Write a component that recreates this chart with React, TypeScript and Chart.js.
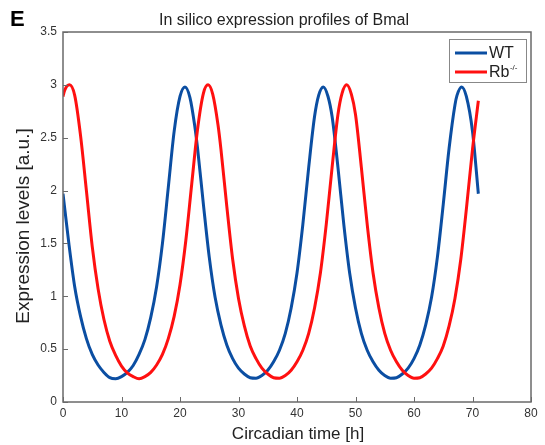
import React, { useEffect, useRef } from "react";
import { Chart, registerables } from "chart.js";

Chart.register(...registerables);

const TITLE = "In silico expression profiles of Bmal";
const PANEL = "E";
const X_TITLE = "Circadian time [h]";
const Y_TITLE = "Expression levels [a.u.]";
const LEGEND_WT = "WT";
const LEGEND_RB = "Rb";
const LEGEND_RB_SUP = "-/-";

const WT_HOURS = [
  0, 1, 2, 3, 4, 5, 6, 7, 8, 9, 10, 11, 12, 13, 14, 15, 16, 17, 18, 19, 20, 20.85, 21.7, 22.5,
  23, 24, 25, 26, 27, 28, 29, 30, 31, 32, 33, 34, 35, 36, 37, 38, 39, 40, 41, 42, 43, 43.7, 44.5,
  45.3, 46, 47, 48, 49, 50, 51, 52, 53, 54, 55, 56, 57, 58, 59, 60, 61, 62, 63, 64, 65, 66, 67,
  67.35, 68.15, 68.95, 70, 71,
];

const WT = [
  1.97, 1.5, 1.09, 0.81, 0.6, 0.45, 0.35, 0.28, 0.23, 0.22, 0.24, 0.28, 0.345, 0.45, 0.59, 0.8,
  1.09, 1.5, 2.03, 2.56, 2.89, 2.98, 2.88, 2.62, 2.4, 1.87, 1.37, 0.99, 0.73, 0.54, 0.41, 0.32,
  0.265, 0.23, 0.225, 0.25, 0.3, 0.38, 0.49, 0.65, 0.89, 1.22, 1.68, 2.22, 2.7, 2.9, 2.98, 2.89,
  2.7, 2.22, 1.68, 1.22, 0.89, 0.65, 0.49, 0.38, 0.3, 0.25, 0.225, 0.23, 0.265, 0.32, 0.41, 0.54,
  0.73, 0.99, 1.37, 1.87, 2.4, 2.81, 2.9, 2.98, 2.89, 2.56, 1.97,
];

const RB_HOURS = [
  0, 0.3, 1.1, 2, 3, 4, 5, 6, 7, 8, 9, 10, 11, 12, 13, 14, 15, 16, 17, 18, 19, 20, 21, 22, 23,
  24, 24.8, 25.6, 26.5, 27, 28, 29, 30, 31, 32, 33, 34, 35, 36, 37, 38, 39, 40, 41, 42, 43, 44,
  45, 46, 47, 47.7, 48.5, 49.3, 50, 51, 52, 53, 54, 55, 56, 57, 58, 59, 60, 61, 62, 63, 64, 65,
  66, 67, 68, 69, 70, 71,
];

const RB = [
  2.89, 2.95, 3.0, 2.9, 2.52, 2.0, 1.47, 1.07, 0.78, 0.575, 0.44, 0.34, 0.275, 0.24, 0.22, 0.24,
  0.28, 0.35, 0.45, 0.6, 0.81, 1.11, 1.53, 2.06, 2.58, 2.92, 3.0, 2.91, 2.62, 2.39, 1.85, 1.35,
  0.98, 0.72, 0.53, 0.41, 0.32, 0.265, 0.23, 0.225, 0.25, 0.3, 0.38, 0.49, 0.65, 0.89, 1.22, 1.68,
  2.22, 2.72, 2.92, 3.0, 2.91, 2.72, 2.22, 1.68, 1.22, 0.89, 0.65, 0.49, 0.38, 0.3, 0.25, 0.225,
  0.23, 0.265, 0.32, 0.41, 0.53, 0.72, 0.98, 1.35, 1.85, 2.39, 2.85,
];

const X_MIN = 0;
const X_MAX = 80;
const X_STEP = 10;
const Y_MIN = 0;
const Y_MAX = 3.5;
const Y_STEP = 0.5;

const BLUE = "#0b4ea2";
const RED = "#ff1010";
const FONT = '"Liberation Sans", Arial, Helvetica, sans-serif';

const overlay = {
  id: "overlay",
  afterDraw(chart: any) {
    const { ctx, chartArea: a, scales } = chart;
    ctx.save();
    // frame
    ctx.strokeStyle = "#6a6a6a";
    ctx.lineWidth = 1.5;
    ctx.strokeRect(a.left, a.top, a.right - a.left, a.bottom - a.top);
    // inward tick marks (bottom and left only)
    ctx.lineWidth = 1;
    const tl = 5;
    scales.x.ticks.forEach((t: any) => {
      const px = Math.round(scales.x.getPixelForValue(t.value)) + 0.5;
      ctx.beginPath();
      ctx.moveTo(px, a.bottom);
      ctx.lineTo(px, a.bottom - tl);
      ctx.stroke();
    });
    scales.y.ticks.forEach((t: any) => {
      const py = Math.round(scales.y.getPixelForValue(t.value)) + 0.5;
      ctx.beginPath();
      ctx.moveTo(a.left, py);
      ctx.lineTo(a.left + tl, py);
      ctx.stroke();
    });
    // title
    ctx.fillStyle = "#222";
    ctx.font = `16px ${FONT}`;
    ctx.textAlign = "center";
    ctx.textBaseline = "alphabetic";
    ctx.fillText(TITLE, 284, 25);
    // panel letter
    ctx.font = `bold 22px ${FONT}`;
    ctx.textAlign = "left";
    ctx.fillStyle = "#000";
    ctx.fillText(PANEL, 10, 26);
    // x title
    ctx.fillStyle = "#222";
    ctx.font = `17px ${FONT}`;
    ctx.textAlign = "center";
    ctx.fillText(X_TITLE, 298, 439);
    // y title
    ctx.save();
    ctx.translate(29, 226);
    ctx.rotate(-Math.PI / 2);
    ctx.font = `19px ${FONT}`;
    ctx.textAlign = "center";
    ctx.textBaseline = "alphabetic";
    ctx.fillText(Y_TITLE, 0, 0);
    ctx.restore();
    // legend
    const bx = 449, by = 39, bw = 77, bh = 43;
    ctx.fillStyle = "#fff";
    ctx.fillRect(bx, by, bw, bh);
    ctx.strokeStyle = "#888";
    ctx.lineWidth = 1;
    ctx.strokeRect(bx + 0.5, by + 0.5, bw, bh);
    const rows = [
      { color: chart.data.datasets[0].borderColor, y: 53, text: LEGEND_WT, sup: "" },
      { color: chart.data.datasets[1].borderColor, y: 72, text: LEGEND_RB, sup: LEGEND_RB_SUP },
    ];
    rows.forEach((r) => {
      ctx.strokeStyle = r.color;
      ctx.lineWidth = 3;
      ctx.beginPath();
      ctx.moveTo(455, r.y);
      ctx.lineTo(487, r.y);
      ctx.stroke();
      ctx.fillStyle = "#222";
      ctx.font = `16px ${FONT}`;
      ctx.textAlign = "left";
      ctx.textBaseline = "middle";
      ctx.fillText(r.text, 489, r.y + 1);
      if (r.sup) {
        const w = ctx.measureText(r.text).width;
        ctx.font = `8px ${FONT}`;
        ctx.fillText(r.sup, 489 + w + 0.5, r.y - 4);
      }
    });
    ctx.restore();
  },
};

export default function App() {
  const ref = useRef<HTMLCanvasElement | null>(null);
  useEffect(() => {
    document.body.style.margin = "0";
    const canvas = ref.current;
    if (!canvas) return;
    const chart = new Chart(canvas, {
      type: "line",
      data: {
        datasets: [
          {
            label: LEGEND_WT,
            data: WT_HOURS.map((h, i) => ({ x: h, y: WT[i] })),
            borderColor: BLUE,
            backgroundColor: BLUE,
            borderWidth: 3,
            pointRadius: 0,
            cubicInterpolationMode: "monotone",
            order: 1,
          },
          {
            label: LEGEND_RB + LEGEND_RB_SUP,
            data: RB_HOURS.map((h, i) => ({ x: h, y: RB[i] })),
            borderColor: RED,
            backgroundColor: RED,
            borderWidth: 3,
            pointRadius: 0,
            cubicInterpolationMode: "monotone",
            order: 0,
          },
        ],
      },
      options: {
        animation: false,
        responsive: false,
        devicePixelRatio: 1,
        layout: { padding: { top: 32, right: 14, left: 0, bottom: 0 } },
        plugins: {
          legend: { display: false },
          title: { display: false },
          tooltip: { enabled: false },
        },
        scales: {
          x: {
            type: "linear",
            min: X_MIN,
            max: X_MAX,
            grid: { display: false, drawTicks: false },
            border: { display: false },
            ticks: {
              stepSize: X_STEP,
              padding: 4,
              color: "#333",
              font: { family: FONT, size: 12 },
              maxRotation: 0,
              callback: (v: any) => String(v),
            },
            afterFit: (s: any) => {
              s.height = 43;
            },
          },
          y: {
            type: "linear",
            min: Y_MIN,
            max: Y_MAX,
            grid: { display: false, drawTicks: false },
            border: { display: false },
            ticks: {
              stepSize: Y_STEP,
              padding: 6,
              color: "#333",
              font: { family: FONT, size: 12 },
              callback: (v: any) => String(v),
            },
            afterFit: (s: any) => {
              s.width = 63;
            },
          },
        },
      },
      plugins: [overlay],
    });
    return () => chart.destroy();
  }, []);
  return (
    <div style={{ width: 545, height: 445 }}>
      <canvas ref={ref} width={545} height={445} style={{ width: 545, height: 445, display: "block" }} />
    </div>
  );
}
